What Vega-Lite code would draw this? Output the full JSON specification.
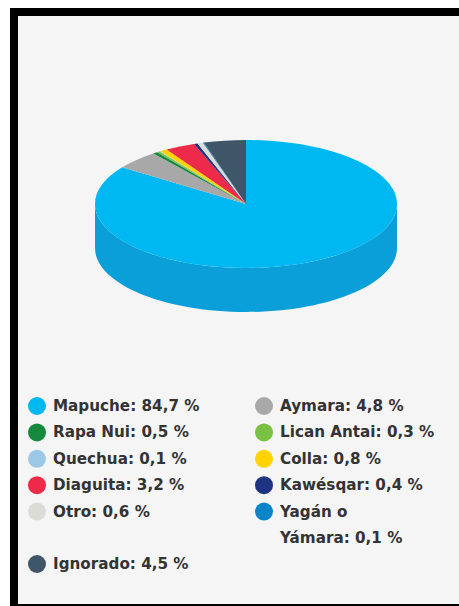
{"$schema":"https://vega.github.io/schema/vega-lite/v6.json","width":449,"height":596,"autosize":"none","padding":{"left":14,"top":12,"right":0,"bottom":0},"background":"#ffffff","view":{"fill":"#f5f5f5","stroke":"#000000","strokeWidth":8},"config":{"style":{"guide-label":{"lineHeight":26}}},"data":{"values":[{"grupo":"Mapuche: 84,7 %","valor":84.7},{"grupo":"Aymara: 4,8 %","valor":4.8},{"grupo":"Rapa Nui: 0,5 %","valor":0.5},{"grupo":"Lican Antai: 0,3 %","valor":0.3},{"grupo":"Quechua: 0,1 %","valor":0.1},{"grupo":"Colla: 0,8 %","valor":0.8},{"grupo":"Diaguita: 3,2 %","valor":3.2},{"grupo":"Kawésqar: 0,4 %","valor":0.4},{"grupo":"Otro: 0,6 %","valor":0.6},{"grupo":"Yagán o Yámara: 0,1 %","valor":0.1},{"grupo":"Ignorado: 4,5 %","valor":4.5}]},"transform":[{"window":[{"op":"sum","field":"valor","as":"fin"}],"frame":[null,0]},{"joinaggregate":[{"op":"sum","field":"valor","as":"total"}]},{"calculate":"2*PI*(datum.fin-datum.valor)/datum.total","as":"a0"},{"calculate":"2*PI*datum.fin/datum.total","as":"a1"},{"calculate":"round(15100*sin(datum.a0))/100+','+round(-6400*cos(datum.a0))/100","as":"p0"},{"calculate":"round(15100*sin(datum.a1))/100+','+round(-6400*cos(datum.a1))/100","as":"p1"},{"calculate":"'M0,0L'+datum.p0+'A151,64,0,'+(datum.a1-datum.a0>PI?'1':'0')+',1,'+datum.p1+'Z'","as":"porcion"}],"layer":[{"transform":[{"filter":"datum.a1-datum.a0>PI"},{"calculate":"'M151,0L151,44A151,64,0,0,1,-151,44L-151,0A151,64,0,0,0,151,0Z'","as":"pared"}],"mark":{"type":"point","filled":true,"opacity":1,"size":4,"color":"#0a9fd8","xOffset":7.5,"yOffset":-106},"encoding":{"shape":{"field":"pared","type":"nominal","scale":null,"legend":null}}},{"mark":{"type":"point","filled":true,"opacity":1,"size":4,"xOffset":7.5,"yOffset":-106},"encoding":{"shape":{"field":"porcion","type":"nominal","scale":null,"legend":null},"color":{"field":"grupo","type":"nominal","sort":null,"scale":{"domain":["Mapuche: 84,7 %","Aymara: 4,8 %","Rapa Nui: 0,5 %","Lican Antai: 0,3 %","Quechua: 0,1 %","Colla: 0,8 %","Diaguita: 3,2 %","Kawésqar: 0,4 %","Otro: 0,6 %","Yagán o Yámara: 0,1 %","Ignorado: 4,5 %"],"range":["#00b8f1","#a8a8a8","#158a3e","#7ac143","#9cc8e8","#ffd200","#ee2a4a","#1f3480","#dcdcd6","#0a84c6","#3e5668"]},"legend":{"orient":"none","legendX":14,"legendY":385,"title":null,"direction":"horizontal","columns":2,"columnPadding":55,"rowPadding":8.4,"gridAlign":"each","symbolType":"circle","symbolSize":324,"symbolStrokeWidth":0,"symbolOpacity":1,"labelFont":"DejaVu Sans","labelFontWeight":"bold","labelFontSize":15.2,"labelColor":"#333333","labelOffset":7,"labelLimit":220,"labelExpr":"datum.label=='Yagán o Yámara: 0,1 %'?['Yagán o','Yámara: 0,1 %']:datum.label"}}}}]}
